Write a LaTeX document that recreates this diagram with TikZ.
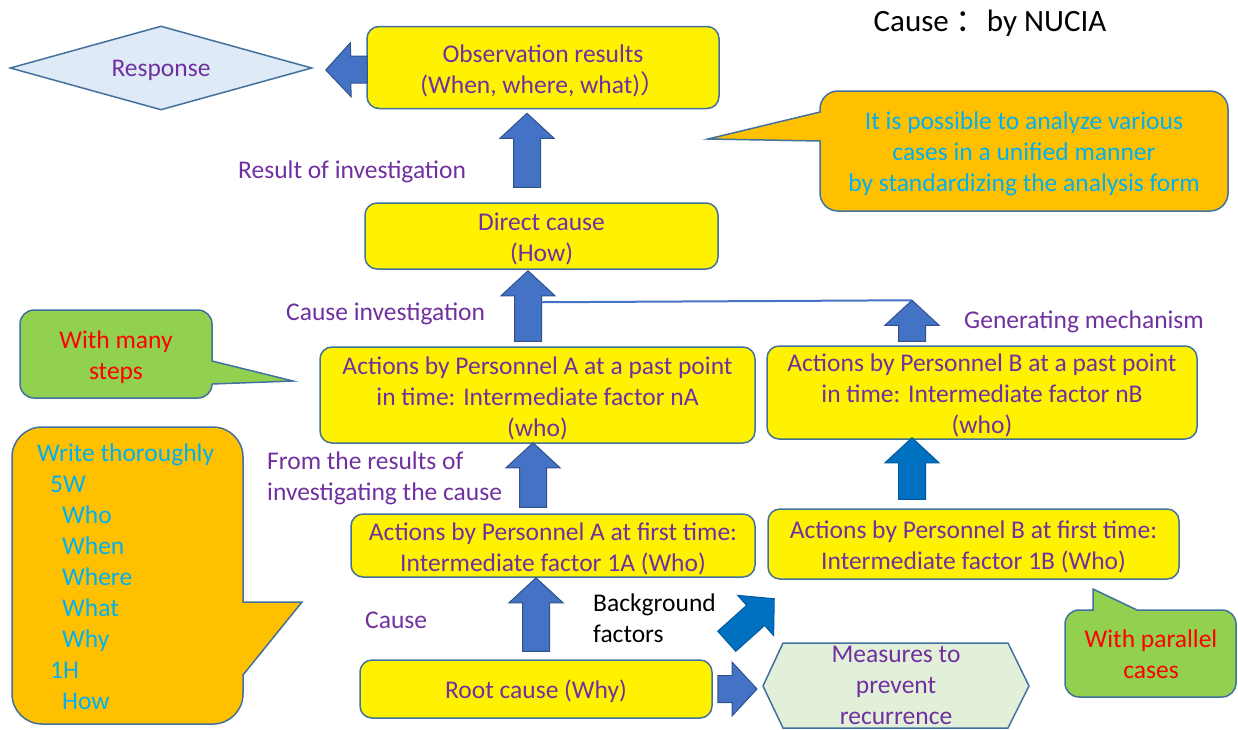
\documentclass[tikz,border=0pt]{standalone}
\usepackage{fontspec}
\setmainfont{Carlito}
\newfontfamily\cjk{Noto Sans CJK SC}
\usepackage{tikz}
\usetikzlibrary{calc,shapes.geometric}

\definecolor{boxline}{RGB}{65,113,156}
\definecolor{arrblue}{RGB}{68,114,196}
\definecolor{arrline}{RGB}{47,82,143}
\definecolor{arrdeep}{RGB}{0,112,192}
\definecolor{arrdeepline}{RGB}{0,90,160}
\definecolor{txtpurple}{RGB}{112,48,160}
\definecolor{txtcyan}{RGB}{0,176,240}
\definecolor{calorange}{RGB}{255,192,0}
\definecolor{calgreen}{RGB}{146,208,80}
\definecolor{diafill}{RGB}{222,235,247}
\definecolor{hexfill}{RGB}{226,240,217}

\tikzset{
  ybox/.style={draw=boxline,line width=1.5pt,fill=yellow,rounded corners=12pt,text=txtpurple,align=center,inner sep=0pt},
  lbl/.style={text=txtpurple,anchor=west,align=left,inner sep=0pt},
  arrfill/.style={fill=arrblue,draw=arrline,line width=1pt},
  arrdark/.style={fill=arrdeep,draw=arrdeepline,line width=1pt},
  callout/.style={draw=boxline,line width=1.5pt},
}

% taller first line, so the text sits a bit lower in its box
\newcommand{\boxstrut}{\rule{0pt}{24pt}}

% block arrow: [style]{tail}{tip}
\newcommand{\blockarr}[3][arrfill]{%
  \path #2 coordinate (ba0) #3 coordinate (ba1);
  \path ($(ba1)!25pt!(ba0)$) coordinate (bah);
  \draw[#1] ($(ba0)!13.5pt!90:(ba1)$) -- ($(bah)!13.5pt!90:(ba1)$) -- ($(bah)!27pt!90:(ba1)$) -- (ba1)
    -- ($(bah)!27pt!-90:(ba1)$) -- ($(bah)!13.5pt!-90:(ba1)$) -- ($(ba0)!13.5pt!-90:(ba1)$) -- cycle;
}

\begin{document}
\begin{tikzpicture}[x=1pt,y=-1pt,font=\fontsize{25.5pt}{31pt}\selectfont]
\useasboundingbox (0,0) rectangle (1238,729);

\node[font=\fontsize{31pt}{37pt}\selectfont,inner sep=0pt] (title) at (990,23) {Cause {\cjk ：}by NUCIA};

% yellow boxes
\node[ybox,minimum width=352pt,minimum height=82pt] (obs) at (543,67.5) {\boxstrut Observation results\\(When, where, what){\cjk ）}};
\node[ybox,minimum width=353pt,minimum height=66pt] (direct) at (541.5,236) {\boxstrut Direct cause\\(How)};
\node[ybox,minimum width=435pt,minimum height=96pt] (an) at (537.5,395) {\boxstrut Actions by Personnel A at a past point\\in time: Intermediate factor nA\\(who)};
\node[ybox,minimum width=430pt,minimum height=93pt] (bn) at (982,392.5) {\boxstrut Actions by Personnel B at a past point\\in time: Intermediate factor nB\\(who)};
\node[ybox,minimum width=404pt,minimum height=63pt] (a1) at (553,545.5) {\boxstrut Actions by Personnel A at first time:\\Intermediate factor 1A (Who)};
\node[ybox,minimum width=411pt,minimum height=70pt] (b1) at (973.5,544) {\boxstrut Actions by Personnel B at first time:\\Intermediate factor 1B (Who)};
\node[ybox,minimum width=352pt,minimum height=58pt] (root) at (536,689) {\boxstrut Root cause (Why)};

\node[diamond,draw=boxline,line width=1.5pt,fill=diafill,aspect=3.6,minimum width=302pt,minimum height=84pt,inner sep=0pt,text=txtpurple] (resp) at (161,68) {\rule{0pt}{22pt}Response};

\draw[callout,fill=hexfill] (763,686) coordinate (hexw) -- (783,643) -- (1008,643) -- (1029,686) -- (1008,728) -- (783,728) -- cycle;
\node[text=txtpurple,align=center,inner sep=0pt] (meas) at (896,685) {Measures to\\prevent\\recurrence};

% callouts
\draw[callout,fill=calorange] (1024,91) [rounded corners=18pt] -- (820,91) [sharp corners] -- (820,112) -- (708,139) -- (820,141) [rounded corners=18pt] -- (820,211) -- (1228,211) -- (1228,91) -- cycle;
\node[text=txtcyan,align=center,inner sep=0pt] (unified) at (1024,154) {It is possible to analyze various\\cases in a unified manner\\by standardizing the analysis form};

\draw[callout,fill=calgreen] (116,310) [rounded corners=14pt] -- (20,310) -- (20,398) -- (212,398) [sharp corners] -- (212,384) -- (293,381) -- (212,361) [rounded corners=14pt] -- (212,310) -- cycle;
\node[text=red,align=center,inner sep=0pt] (many) at (116,357) {With many\\steps};

\draw[callout,fill=calorange] (127,427) [rounded corners=30pt] -- (12,427) -- (12,724) -- (243,724) [sharp corners] -- (243,675) -- (302,602) -- (243,602) [rounded corners=30pt] -- (243,427) -- cycle;
\node[text=txtcyan,anchor=west,align=left,inner sep=0pt] (write) at (37,577) {Write thoroughly\\\hspace*{13pt}5W\\\hspace*{25pt}Who\\\hspace*{25pt}When\\\hspace*{25pt}Where\\\hspace*{25pt}What\\\hspace*{25pt}Why\\\hspace*{13pt}1H\\\hspace*{25pt}How};

\draw[callout,fill=calgreen] (1150,697) [rounded corners=14pt] -- (1065,697) -- (1065,610) [sharp corners] -- (1093,610) -- (1093,589) -- (1137,610) [rounded corners=14pt] -- (1236,610) -- (1236,697) -- cycle;
\node[text=red,align=center,inner sep=0pt] (parallel) at (1151,654) {With parallel\\cases};

% labels
\node[lbl] (resinv) at (238,172) {Result of investigation};
\node[lbl] (causeinv) at (286,314) {Cause investigation};
\node[lbl] (genmech) at (964,322) {Generating mechanism};
\node[lbl] (fromres) at (267,478.5) {From the results of\\investigating the cause};
\node[lbl] (cause) at (365,620) {Cause};
\node[lbl,text=black] (backg) at (593,618) {Background\\factors};

% arrows
\blockarr{($(obs.west)+(1,2)$)}{($(resp.east)+(13,2)$)}
\blockarr{($(direct.north)+(-14.5,-15)$)}{($(obs.south)+(-16,4)$)}
\blockarr{($(an.north)+(-9.5,-5)$)}{($(direct.south)+(-13.5,1)$)}
\coordinate (mech) at ($(bn.north)+(-70,-45)$);
\blockarr{($(bn.north)+(-70,-4)$)}{(mech)}
\draw[arrblue,line width=2pt] ($(an.north)+(4,-44)$) -- (mech);
\blockarr{($(a1.north)+(-20,-6)$)}{($(an.south)+(-4.5,-1)$)}
\blockarr[arrdark]{($(b1.north)+(-61.5,-9)$)}{($(bn.south)+(-70,-2)$)}
\blockarr{($(root.north)+(0,-8)$)}{($(a1.south)+(-17,0)$)}
\blockarr[arrdark]{($(root.north east)+(14,-18)$)}{($(b1.south west)+(7,19)$)}
\blockarr{($(root.east)+(5,0)$)}{($(hexw)+(-6,3)$)}
\end{tikzpicture}
\end{document}
